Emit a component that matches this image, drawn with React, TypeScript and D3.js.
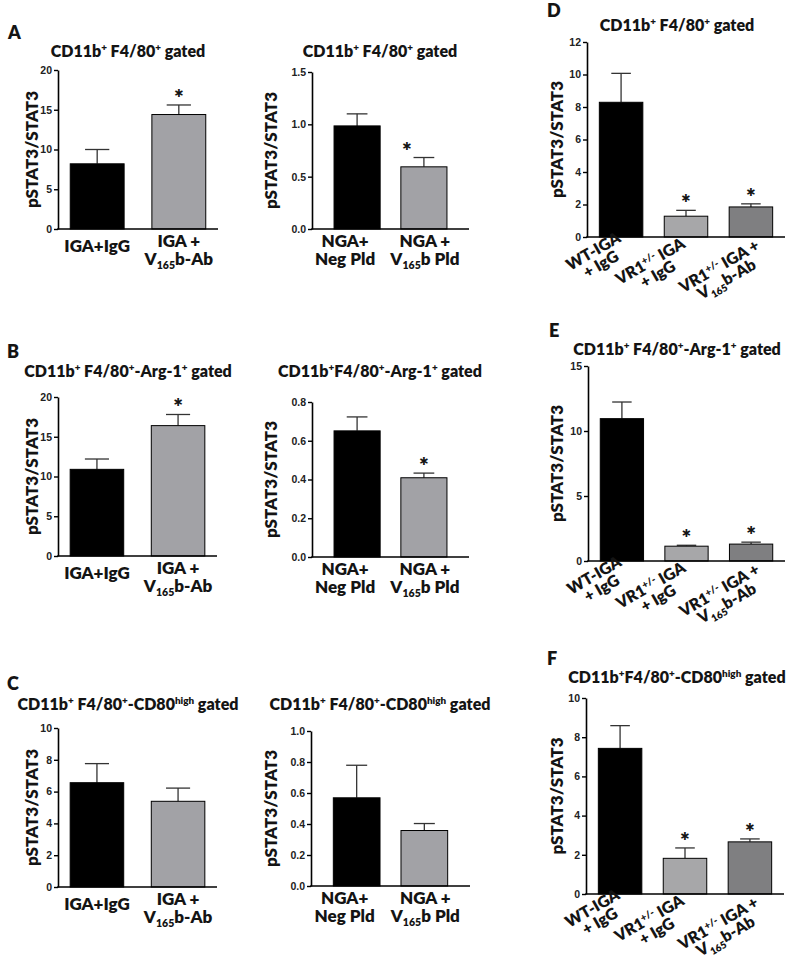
import React, { useEffect, useRef } from "react";
import * as d3 from "d3";

type Seg = { t: string; sup?: boolean; sub?: boolean };
const T = (t: string): Seg => ({ t });
const SUP = (t: string): Seg => ({ t, sup: true });
const SUB = (t: string): Seg => ({ t, sub: true });

// ---------------- DATA ----------------
// categories (each label = list of lines, each line = rich segments)
const igaCategories: Seg[][][] = [
  [[T("IGA+IgG")]],
  [[T("IGA +")], [T("V"), SUB("165"), T("b-Ab")]],
];
const ngaCategories: Seg[][][] = [
  [[T("NGA+")], [T("Neg Pld")]],
  [[T("NGA +")], [T("V"), SUB("165"), T("b Pld")]],
];
const vr1Categories: Seg[][][] = [
  [[T("WT-IGA")], [T("+ IgG")]],
  [[T("VR1"), SUP("+/-"), T(" IGA")], [T("+ IgG")]],
  [[T("VR1"), SUP("+/-"), T(" IGA +")], [T("V"), SUB("165"), T("b-Ab")]],
];

// series values (mean, SEM, significance)
const a1Means = [8.2, 14.4];
const a1Sem = [1.8, 1.2];
const a1Sig = [false, true];
const a2Means = [0.985, 0.594];
const a2Sem = [0.115, 0.089];
const a2Sig = [false, true];
const b1Means = [10.9, 16.4];
const b1Sem = [1.3, 1.4];
const b1Sig = [false, true];
const b2Means = [0.651, 0.409];
const b2Sem = [0.072, 0.024];
const b2Sig = [false, true];
const c1Means = [6.56, 5.39];
const c1Sem = [1.2, 0.83];
const c1Sig = [false, false];
const c2Means = [0.569, 0.358];
const c2Sem = [0.21, 0.045];
const c2Sig = [false, false];
const dMeans = [8.29, 1.28, 1.85];
const dSem = [1.78, 0.36, 0.19];
const dSig = [false, true, true];
const eMeans = [10.95, 1.14, 1.3];
const eSem = [1.28, 0.07, 0.15];
const eSig = [false, true, true];
const fMeans = [7.43, 1.82, 2.66];
const fSem = [1.16, 0.53, 0.15];
const fSig = [false, true, true];

// tick values
const ticks0to20 = [0, 5, 10, 15, 20];
const ticks0to1p5 = [0, 0.5, 1.0, 1.5];
const ticks0to0p8 = [0, 0.2, 0.4, 0.6, 0.8];
const ticks0to10 = [0, 2, 4, 6, 8, 10];
const ticks0to1 = [0, 0.2, 0.4, 0.6, 0.8, 1.0];
const ticks0to12 = [0, 2, 4, 6, 8, 10, 12];
const ticks0to15 = [0, 5, 10, 15];

// titles
const titleF480: Seg[] = [T("CD11b"), SUP("+"), T(" F4/80"), SUP("+"), T(" gated")];
const titleArgA: Seg[] = [T("CD11b"), SUP("+"), T(" F4/80"), SUP("+"), T("-Arg-1"), SUP("+"), T(" gated")];
const titleArgB: Seg[] = [T("CD11b"), SUP("+"), T("F4/80"), SUP("+"), T("-Arg-1"), SUP("+"), T(" gated")];
const titleCD80A: Seg[] = [T("CD11b"), SUP("+"), T(" F4/80"), SUP("+"), T("-CD80"), SUP("high"), T(" gated")];
const titleCD80B: Seg[] = [T("CD11b"), SUP("+"), T("F4/80"), SUP("+"), T("-CD80"), SUP("high"), T(" gated")];
const yLabel = "pSTAT3/STAT3";

// ---------------- STYLE ----------------
const FONT = "Lato, 'Open Sans', sans-serif";
const TICKFONT = "'Liberation Sans', Arial, sans-serif";
const INK = "#141414";
const W = 800;
const WT = 800;
const twoColors = ["#000000", "#a2a2a6"];
const threeColors = ["#000000", "#a7a7a9", "#7f7f81"];

// Builds flattened tspans for multi-line rich text inside ONE <text>
function richLines(lines: Seg[][], fs: number, lineH: number, x: number) {
  let shift = 0;
  const out: React.ReactNode[] = [];
  lines.forEach((segs, j) => {
    segs.forEach((s, k) => {
      const target = s.sup ? -fs * 0.36 : s.sub ? fs * 0.28 : 0;
      let dy = target - shift;
      if (k === 0 && j > 0) dy += lineH;
      shift = target;
      out.push(
        <tspan
          key={`${j}-${k}`}
          x={k === 0 ? x : undefined}
          dy={dy}
          fontSize={s.sup || s.sub ? fs * 0.62 : fs}
          style={{ whiteSpace: "pre" }}
        >
          {s.t}
        </tspan>
      );
    });
  });
  return out;
}

type PanelProps = {
  means: number[];
  sem: number[];
  sig: boolean[];
  cats: Seg[][][];
  colors: string[];
  max: number;
  ticks: number[];
  fmt: string;
  x0: number;
  x1: number;
  yTop: number;
  yBottom: number;
  pi: number;
  po: number;
  title: Seg[];
  titleX: number;
  titleY: number;
  letter?: string;
  letterX?: number;
  letterY?: number;
  yLabelX: number;
  rotated?: boolean;
  rotOffsets?: [number, number][];
  labelDx?: number[];
  starDx?: number;
};

function Panel(p: PanelProps) {
  const y = d3.scaleLinear().domain([0, p.max]).range([p.yBottom, p.yTop]);
  const x = d3
    .scaleBand<number>()
    .domain(p.means.map((_, i) => i))
    .range([p.x0, p.x1])
    .paddingInner(p.pi)
    .paddingOuter(p.po);
  const bw = x.bandwidth();
  const axisRef = useRef<SVGGElement>(null);
  useEffect(() => {
    if (!axisRef.current) return;
    const g = d3.select(axisRef.current);
    g.call(
      d3
        .axisLeft(y)
        .tickValues(p.ticks)
        .tickFormat(d3.format(p.fmt) as any)
        .tickSize(4)
        .tickSizeOuter(0)
        .tickPadding(2)
    );
    g.attr("font-family", null).attr("font-size", null);
    g.select(".domain").attr("stroke", "#000").attr("stroke-width", 1.6);
    g.selectAll(".tick line").attr("stroke", "#000").attr("stroke-width", 1.4);
    g.selectAll(".tick text")
      .attr("font-family", TICKFONT)
      .attr("font-weight", "bold")
      .attr("font-size", 10.5)
      .attr("fill", "#222");
  });
  const midY = (p.yTop + p.yBottom) / 2;
  return (
    <g>
      {p.letter && (
        <text x={p.letterX} y={p.letterY} fontSize={18} fontWeight={WT} fill={INK} fontFamily={FONT}>
          {p.letter}
        </text>
      )}
      <text x={p.titleX} y={p.titleY} textAnchor="middle" fontSize={16} fontWeight={WT} fill={INK} fontFamily={FONT}>
        {richLines([p.title], 16, 0, p.titleX)}
      </text>
      <text
        transform={`translate(${p.yLabelX},${midY}) rotate(-90)`}
        textAnchor="middle"
        fontSize={17}
        fontWeight={WT}
        fill={INK}
        fontFamily={FONT}
      >
        {yLabel}
      </text>
      {p.means.map((m, i) => {
        const cx = x(i)! + bw / 2;
        const top = y(m);
        const errTop = y(m + p.sem[i]);
        const cap = bw * 0.45;
        return (
          <g key={i}>
            <line x1={cx} x2={cx} y1={top} y2={errTop} stroke="#333" strokeWidth={1.3} />
            <line x1={cx - cap / 2} x2={cx + cap / 2} y1={errTop} y2={errTop} stroke="#333" strokeWidth={1.3} />
            <rect x={x(i)!} y={top} width={bw} height={p.yBottom - top} fill={p.colors[i]} stroke="#000" strokeWidth={1} />
            {p.sig[i] && (
              <text
                x={cx + (p.starDx || 0)}
                y={errTop - 12 + 13}
                textAnchor="middle"
                fontSize={23}
                fontWeight={WT}
                fill={INK}
                fontFamily={FONT}
              >
                *
              </text>
            )}
          </g>
        );
      })}
      <line x1={p.x0 - 0.8} x2={p.x1} y1={p.yBottom} y2={p.yBottom} stroke="#000" strokeWidth={1.6} />
      <g ref={axisRef} transform={`translate(${p.x0},0)`} />
      {p.cats.map((lines, i) => {
        const cx = x(i)! + bw / 2;
        if (p.rotated) {
          const [dx, dy] = (p.rotOffsets || [])[i] || [0, 0];
          return (
            <text
              key={i}
              transform={`translate(${cx + dx},${p.yBottom + dy}) rotate(-30)`}
              y={0}
              dy="0.35em"
              textAnchor="middle"
              fontSize={16}
              fontWeight={WT}
              fill={INK}
              fontFamily={FONT}
            >
              {richLines(lines, 16, 15, 0)}
            </text>
          );
        }
        const first = lines.length === 1 ? 23 : 18;
        const ldx = (p.labelDx || [])[i] || 0;
        return (
          <text key={i} x={cx + ldx} y={p.yBottom + first} textAnchor="middle" fontSize={17} fontWeight={WT} fill={INK} fontFamily={FONT}>
            {richLines(lines, 17, 17.5, cx + ldx)}
          </text>
        );
      })}
    </g>
  );
}

const rotOffsets: [number, number][] = [
  [-25, 19],
  [-33, 29],
  [-29, 34],
];
const midLabelDx = [-12, 1];

export default function App() {
  const L = { x0: 58, x1: 218, pi: 0.34, po: 0.15, titleX: 128, yLabelX: 38 };
  const M = { x0: 312, x1: 469, pi: 0.31, po: 0.33, titleX: 380, yLabelX: 277, labelDx: midLabelDx };
  const R = { x0: 587, x1: 785, pi: 0.33, po: 0.19, titleX: 677, yLabelX: 563 };
  return (
    <svg width={W} height={963} style={{ position: "absolute", left: 0, top: 0, background: "#fff" }}>
      <rect width={W} height={963} fill="#fff" />
      {/* A */}
      <Panel {...L} means={a1Means} sem={a1Sem} sig={a1Sig} cats={igaCategories} colors={twoColors} max={20} ticks={ticks0to20} fmt="d"
        yTop={70} yBottom={229} title={titleF480} titleY={57} letter="A" letterX={8} letterY={39} />
      <Panel {...M} means={a2Means} sem={a2Sem} sig={a2Sig} cats={ngaCategories} colors={twoColors} max={1.5} ticks={ticks0to1p5} fmt=".1f"
        yTop={72} yBottom={229} title={titleF480} titleY={57} starDx={-17} />
      {/* B */}
      <Panel {...L} x1={217} means={b1Means} sem={b1Sem} sig={b1Sig} cats={igaCategories} colors={twoColors} max={20} ticks={ticks0to20} fmt="d"
        yTop={397} yBottom={556} title={titleArgA} titleY={377} letter="B" letterX={7} letterY={358} />
      <Panel {...M} means={b2Means} sem={b2Sem} sig={b2Sig} cats={ngaCategories} colors={twoColors} max={0.8} ticks={ticks0to0p8} fmt=".1f"
        yTop={402} yBottom={557} title={titleArgB} titleY={377} />
      {/* C */}
      <Panel {...L} x1={217} means={c1Means} sem={c1Sem} sig={c1Sig} cats={igaCategories} colors={twoColors} max={10} ticks={ticks0to10} fmt="d"
        yTop={728} yBottom={887} title={titleCD80A} titleY={710} letter="C" letterX={7} letterY={690} />
      <Panel {...M} x0={311} x1={470} means={c2Means} sem={c2Sem} sig={c2Sig} cats={ngaCategories} colors={twoColors} max={1.0} ticks={ticks0to1} fmt=".1f"
        yTop={731} yBottom={886} title={titleCD80A} titleY={710} />
      {/* D */}
      <Panel {...R} means={dMeans} sem={dSem} sig={dSig} cats={vr1Categories} colors={threeColors} max={12} ticks={ticks0to12} fmt="d"
        yTop={42} yBottom={237} title={titleF480} titleY={31} letter="D" letterX={547} letterY={17} rotated rotOffsets={rotOffsets} />
      {/* E */}
      <Panel {...R} x0={588} means={eMeans} sem={eSem} sig={eSig} cats={vr1Categories} colors={threeColors} max={15} ticks={ticks0to15} fmt="d"
        yTop={366} yBottom={561} title={titleArgA} titleY={355} letter="E" letterX={549} letterY={337} rotated rotOffsets={rotOffsets} />
      {/* F */}
      <Panel {...R} x0={586} x1={784} means={fMeans} sem={fSem} sig={fSig} cats={vr1Categories} colors={threeColors} max={10} ticks={ticks0to10} fmt="d"
        yTop={698} yBottom={894} title={titleCD80B} titleY={683} letter="F" letterX={547} letterY={665} rotated rotOffsets={rotOffsets} />
    </svg>
  );
}
